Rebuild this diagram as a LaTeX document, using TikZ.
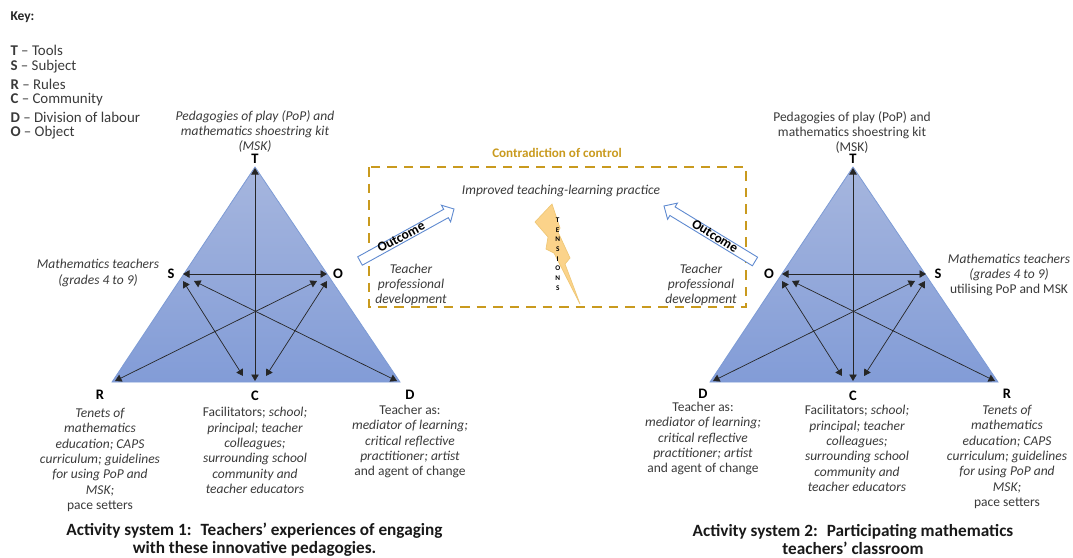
\documentclass[tikz,border=0pt]{standalone}
\usepackage{fontspec}
\setmainfont{Carlito}
\usetikzlibrary{arrows.meta}
\definecolor{gold}{HTML}{C99A1E}
\definecolor{txt}{HTML}{3A3A3A}
\definecolor{triTop}{HTML}{A6B6DE}
\definecolor{triBot}{HTML}{829CD7}
\definecolor{triEdge}{HTML}{7D9BD5}
\definecolor{boltFill}{HTML}{FBD38A}
\definecolor{boltEdge}{HTML}{EFC878}
\definecolor{outEdge}{HTML}{5F8AD0}
\tikzset{
  x=1pt,y=-1pt,
  every node/.style={inner sep=0pt,outer sep=0pt,font=\fontsize{13.5}{15.3}\selectfont,text=txt,align=center},
  lab/.style={font=\fontsize{14.5}{15}\selectfont\bfseries,text=black},
  itxt/.style={font=\fontsize{13.5}{15.3}\selectfont\itshape},
  tri/.style={draw=triEdge,line width=0.8pt,top color=triTop,bottom color=triBot,middle color=triTop!50!triBot},
  dbl/.style={draw=black!85,line width=0.7pt,{Triangle[length=6.5pt,width=7.5pt]}-{Triangle[length=6.5pt,width=7.5pt]}},
  title/.style={font=\fontsize{17.2}{18}\selectfont\bfseries,text=black!90},
  keyitem/.style={anchor=west,font=\fontsize{14.9}{16}\selectfont},
  outarrow/.style={draw=outEdge,fill=white,line width=0.9pt,line join=miter},
  outtxt/.style={font=\fontsize{13.5}{14}\selectfont\bfseries,text=black},
  tens/.style={font=\fontsize{7.2}{9.7}\selectfont\bfseries,text=black}
}
\begin{document}
\begin{tikzpicture}
\useasboundingbox (0,0) rectangle (1073,557);
% Key
\node[keyitem,font=\fontsize{13.5}{16}\selectfont\bfseries,text=black!85] (keyh) at (10.5,17) {Key:};
\node[keyitem] (k1) at (10.5,50) {\textbf{T} – Tools};
\node[keyitem] (k2) at (10.5,67) {\textbf{S} – Subject};
\node[keyitem] (k3) at (10.5,84) {\textbf{R} – Rules};
\node[keyitem] (k4) at (10.5,100) {\textbf{C} – Community};
\node[keyitem] (k5) at (10.5,117) {\textbf{D} – Division of labour};
\node[keyitem] (k6) at (10.5,133) {\textbf{O} – Object};
% Left triangle
\coordinate (la) at (255,167);
\coordinate (lr) at (112,382);
\coordinate (ld) at (400,382);
\path[tri] (la) -- (ld) -- (lr) -- cycle;
\coordinate (lt1) at (255,168);  \coordinate (lc1) at (255,381);
\coordinate (ls1) at (183,274);  \coordinate (lo1) at (327,274);
\coordinate (lr1) at (115,381);  \coordinate (lo2) at (317,281);
\coordinate (ld1) at (397,381);  \coordinate (ls2) at (194,281);
\coordinate (ls3) at (183,281);  \coordinate (lc2) at (243,376);
\coordinate (lo3) at (327,281);  \coordinate (lc3) at (266,376);
\draw[dbl] (lt1) -- (lc1);
\draw[dbl] (ls1) -- (lo1);
\draw[dbl] (lr1) -- (lo2);
\draw[dbl] (ld1) -- (ls2);
\draw[dbl] (ls3) -- (lc2);
\draw[dbl] (lo3) -- (lc3);
% Right triangle
\coordinate (ra) at (853,167);
\coordinate (rd) at (710,382);
\coordinate (rr) at (998,382);
\path[tri] (ra) -- (rr) -- (rd) -- cycle;
\coordinate (rt1) at (853,168);  \coordinate (rc1) at (853,381);
\coordinate (ro1) at (782,274);  \coordinate (rs1) at (926,274);
\coordinate (rd1) at (713,381);  \coordinate (rs2) at (915,281);
\coordinate (rr1) at (995,381);  \coordinate (ro2) at (792,281);
\coordinate (ro3) at (782,281);  \coordinate (rc2) at (842,376);
\coordinate (rs3) at (925,281);  \coordinate (rc3) at (864,376);
\draw[dbl] (rt1) -- (rc1);
\draw[dbl] (ro1) -- (rs1);
\draw[dbl] (rd1) -- (rs2);
\draw[dbl] (rr1) -- (ro2);
\draw[dbl] (ro3) -- (rc2);
\draw[dbl] (rs3) -- (rc3);
% Dashed box
\draw[gold,line width=2.7pt,dash pattern=on 9.5pt off 7pt] (369,167) rectangle (746,307);
\node[font=\fontsize{13.1}{14}\selectfont\bfseries,text=gold] (cc) at (557,153) {Contradiction of control};
\node[itxt] (itl) at (561,191) {Improved teaching-learning practice};
% Bolt
\draw[boltEdge,fill=boltFill,line width=0.7pt,line join=miter]
  (552,204) -- (560,228) -- (558,232) -- (570,258) -- (565,264) -- (580,304)
  -- (554,253) -- (546,249) -- (548,237) -- (535,222) -- cycle;
\node[tens] (tn) at (557.7,254) {T\\E\\N\\S\\I\\O\\N\\S};
% Outcome arrows
\draw[outarrow] (362.3,265.2) -- (448.3,217.7) -- (450.6,221.8) -- (454,209) -- (441.4,205.2) -- (443.7,209.3) -- (357.7,256.8) -- cycle;
\node[outtxt,rotate=28] (o1) at (401,237) {Outcome};
\draw[outarrow] (752.4,265.8) -- (669.9,215.5) -- (667.6,219.3) -- (664,206) -- (677.4,203.1) -- (675.1,206.9) -- (757.6,257.2) -- cycle;
\node[outtxt,rotate=-32] (o2) at (715,236) {Outcome};
% Teacher pd
\node[itxt] (tp1) at (411,285) {Teacher\\professional\\development};
\node[itxt] (tp2) at (701,285) {Teacher\\professional\\development};
% Left labels
\node[lab] (T1) at (255,159) {T};
\node[lab] (S1) at (171,274) {S};
\node[lab] (O1) at (338,274) {O};
\node[lab] (R1) at (100,395) {R};
\node[lab] (C1) at (255,396) {C};
\node[lab] (D1) at (410,395) {D};
\node[itxt] (lt) at (255,131.5) {Pedagogies of play (PoP) and\\mathematics shoestring kit\\(MSK)};
\node[itxt] (ls) at (98,273) {Mathematics teachers\\(grades 4 to 9)};
\node (lrt) at (100,460) {\itshape Tenets of\\\itshape mathematics\\\itshape education; CAPS\\\itshape curriculum; guidelines\\\itshape for using PoP and\\\itshape MSK;\\pace setters};
\node (lct) at (255,450.5) {Facilitators; \itshape school;\\\itshape principal; teacher\\\itshape colleagues;\\\itshape surrounding school\\\itshape community and\\\itshape teacher educators};
\node (ldt) at (410,441.5) {Teacher as:\\\itshape mediator of learning;\\\itshape critical reflective\\\itshape practitioner; artist\\and agent of change};
% Right labels
\node[lab] (T2) at (853,159) {T};
\node[lab] (O2) at (769,274) {O};
\node[lab] (S2) at (938,274) {S};
\node[lab] (D2) at (703,394) {D};
\node[lab] (C2) at (853,396) {C};
\node[lab] (R2) at (1007,394) {R};
\node (rt) at (852,132.5) {Pedagogies of play (PoP) and\\mathematics shoestring kit\\(MSK)};
\node (rs) at (1009,275) {\itshape Mathematics teachers\\\itshape (grades 4 to 9)\\utilising PoP and MSK};
\node (rdt) at (703,438.5) {Teacher as:\\\itshape mediator of learning;\\\itshape critical reflective\\\itshape practitioner; artist\\and agent of change};
\node (rct) at (857,448.5) {Facilitators; \itshape school;\\\itshape principal; teacher\\\itshape colleagues;\\\itshape surrounding school\\\itshape community and\\\itshape teacher educators};
\node (rrt) at (1007,457) {\itshape Tenets of\\\itshape mathematics\\\itshape education; CAPS\\\itshape curriculum; guidelines\\\itshape for using PoP and\\\itshape MSK;\\pace setters};
% Titles
\node[title] (t1) at (254.5,539.5) {Activity system 1:~ Teachers’ experiences of engaging\\with these innovative pedagogies.};
\node[title] (t2) at (853,539.5) {Activity system 2:~ Participating mathematics\\teachers’ classroom};
\end{tikzpicture}
\end{document}
